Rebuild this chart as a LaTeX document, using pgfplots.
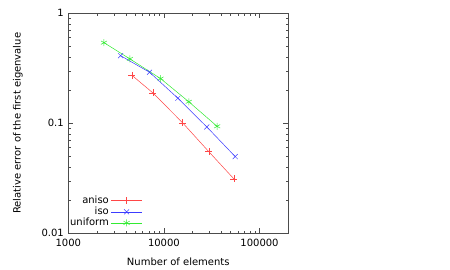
\documentclass[border=0pt]{standalone}
\usepackage{fontspec}
\setmainfont{DejaVu Sans}
\usepackage{pgfplots}
\pgfplotsset{compat=1.18}
\definecolor{cR}{RGB}{255,70,70}
\definecolor{cB}{RGB}{60,60,255}
\definecolor{cG}{RGB}{50,235,50}
\begin{document}
\begin{tikzpicture}
\useasboundingbox (0pt,0pt) rectangle (450pt,-270pt);
\begin{axis}[
  at={(68.3pt,-233.3pt)}, anchor=south west,
  scale only axis, width=220pt, height=220pt,
  xmode=log, ymode=log,
  xmin=1000, xmax=200000, ymin=0.01, ymax=1,
  xtick={1000,10000,100000}, xticklabels={1000,10000,100000},
  ytick={0.01,0.1,1}, yticklabels={0.01,0.1,1},
  tick pos=both, tick align=inside,
  major tick length=5pt, minor tick length=2.5pt,
  tick style={black!70, line width=0.5pt},
  axis line style={black!70, line width=0.6pt},
  ticklabel style={font=\fontsize{10}{11}\selectfont},
  xticklabel style={yshift=-2pt},
  yticklabel style={xshift=-1pt},
  xlabel={Number of elements}, ylabel={Relative error of the first eigenvalue},
  label style={font=\fontsize{10}{11}\selectfont},
  xlabel style={yshift=-5pt},
  ylabel style={yshift=12pt},
  legend style={draw=none, fill=none, at={(0.342,0.012)}, anchor=south east,
    font=\fontsize{10}{11}\selectfont, row sep=-2pt, inner sep=1pt},
  legend cell align=right,
  legend plot pos=right,
  legend image code/.code={\draw[#1,mark=none] (0pt,0pt) -- (31pt,0pt); \draw[#1] plot coordinates {(15.5pt,0pt)};},
]
\addplot[cR, line width=0.5pt, mark=+, mark size=3.5pt] coordinates {
 (4630,0.273) (7670,0.189) (15700,0.101) (29500,0.0552) (54000,0.0312)};
\addlegendentry{aniso}
\addplot[cB, line width=0.5pt, mark=x, mark size=3.5pt] coordinates {
 (3520,0.412) (7080,0.291) (14000,0.169) (28100,0.0927) (55700,0.0498)};
\addlegendentry{iso}
\addplot[cG, line width=0.5pt, mark=asterisk, mark size=3.5pt] coordinates {
 (2360,0.541) (4410,0.385) (9230,0.255) (18200,0.157) (36000,0.0939)};
\addlegendentry{uniform}
\end{axis}
\end{tikzpicture}
\end{document}
